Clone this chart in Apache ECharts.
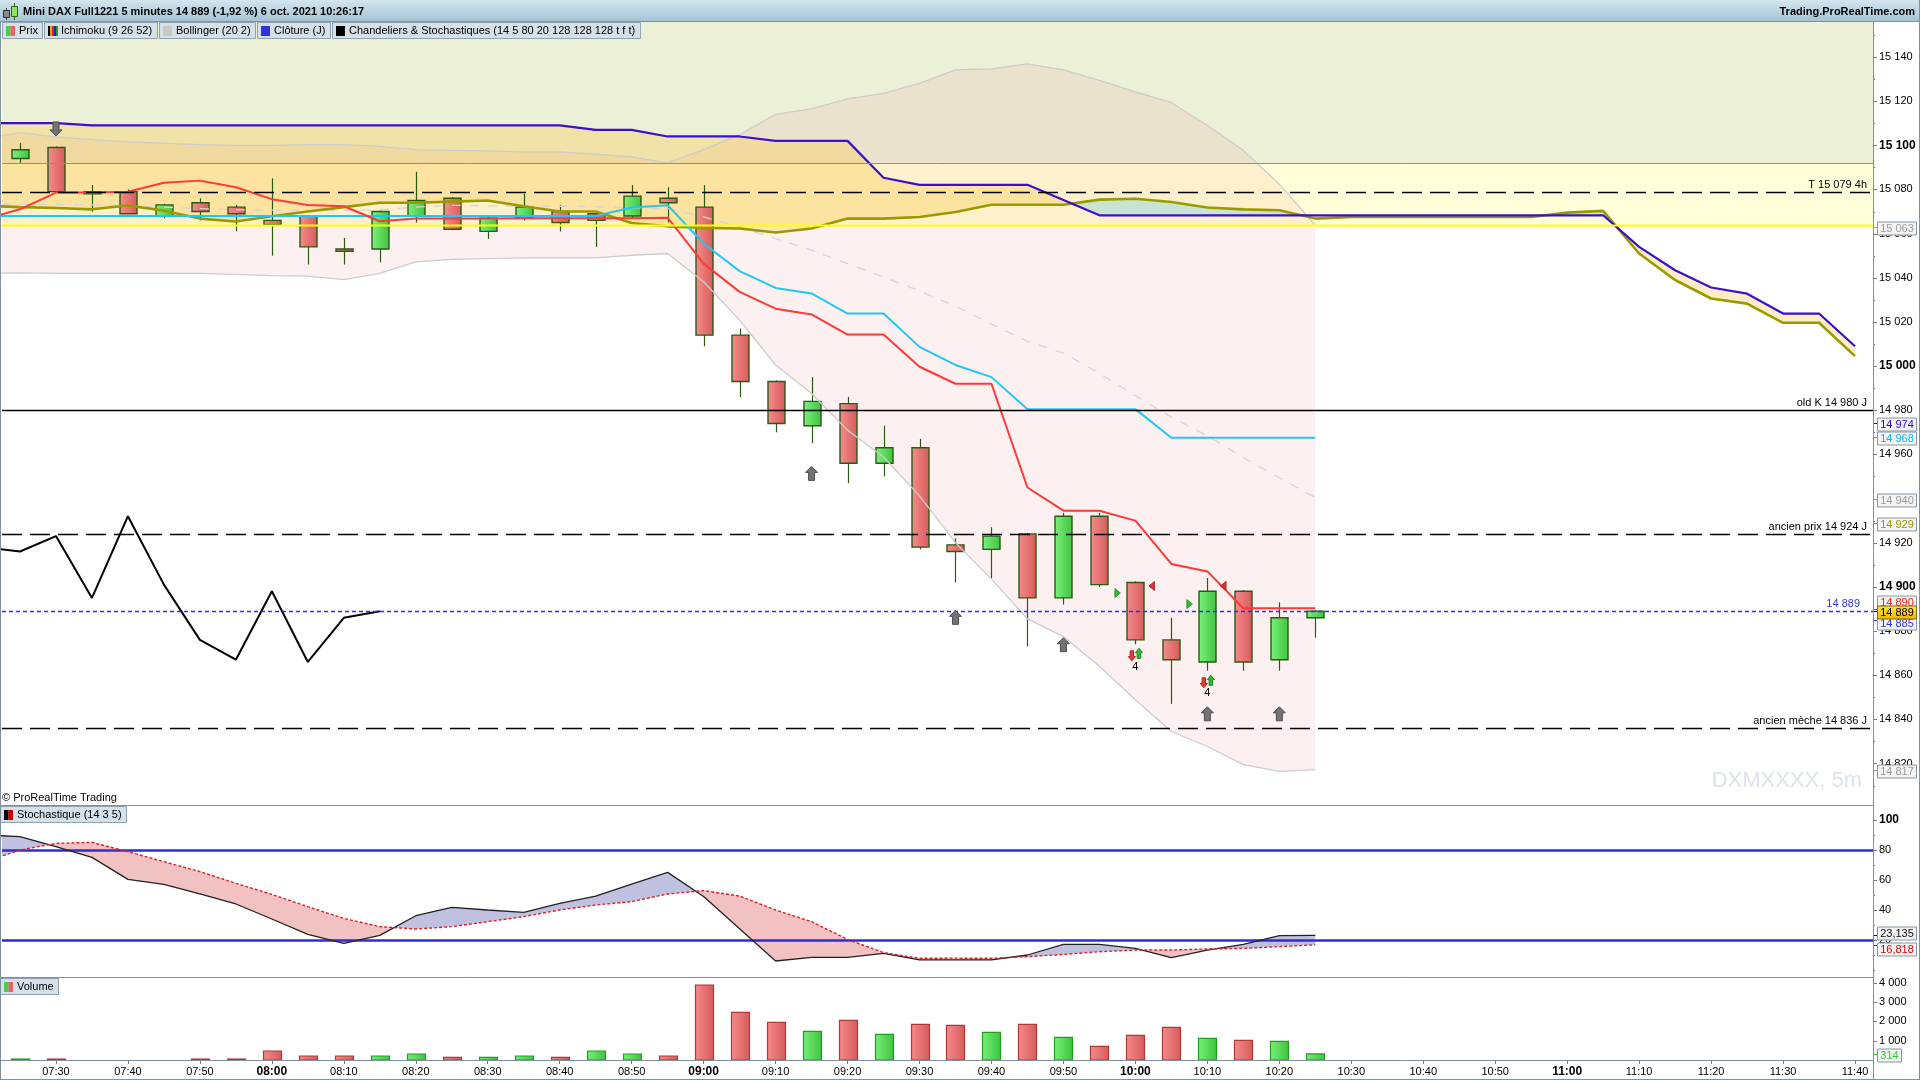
<!DOCTYPE html>
<html>
<head>
<meta charset="utf-8">
<title>Mini DAX Full1221 5 minutes</title>
<script src="https://cdn.jsdelivr.net/npm/echarts@6/dist/echarts.min.js"></script>
<style>
html,body{margin:0;padding:0;background:#fff;overflow:hidden;}
#chart{width:1920px;height:1080px;}
</style>
</head>
<body>
<div id="chart"></div>
<script>
// ================= DATA =================
// Bar index 0 = 07:25, one bar every 5 minutes.
const candleOpen  = [15094,15099,15079,15079,15068,15074,15072,15066,15068,15053,
                     15053,15068,15076,15061,15067,15070,15069,15068,15076,15072,
                     15014,14993,14973,14983,14956,14963,14919,14917,14924,14895,
                     14932,14902,14876,14866,14898,14867,14886];
const candleClose = [15098,15079,15078,15069,15073,15070,15069,15064,15054,15052,
                     15070,15075,15062,15067,15072,15065,15066,15077,15074,15014,
                     14993,14974,14984,14956,14963,14918,14916,14923,14895,14932,
                     14901,14876,14867,14898,14866,14886,14889];
const candleLow   = [15092,15078.5,15070,15069,15067,15066,15061,15050,15046,15046,
                     15047,15065,15061.5,15057.6,15066,15061,15054,15067,15065,15009,
                     14986,14970,14965,14947,14950,14917,14902,14904,14873,14892,
                     14900,14874,14847,14862,14862,14862,14877];
const candleHigh  = [15101,15099.5,15082,15080,15073.5,15076,15073,15085,15068.5,15058,
                     15070.5,15088,15076.5,15067.5,15078,15073,15069.5,15082,15081,15082,
                     15017,14993.5,14995,14986,14973,14967,14922,14927,14924.5,14933.5,
                     14933.5,14902.5,14886,14904,14898.5,14893,14889.5];
const volumes     = [50,50,0,0,0,50,50,467,207,207,
                     207,311,140,140,207,140,467,311,207,3888,
                     2473,1954,1488,2058,1332,1851,1799,1436,1851,1177,
                     710,1280,1695,1125,1021,969,314];

// Indicator arrays start at bar index -1 (partly hidden bar at the left edge)
const indStart = -1;
const tenkan = [15066.5,15071,15078.6,15078.6,15079,15083,15084,15081,15075.6,15073,15072.4,
                15065.6,15066.8,15066.8,15066.8,15067,15067,15067,15067,15067.2,15046.4,
                15033.6,15026,15023.4,15014.3,15014.3,14999.7,14992,14992,14945,14934.5,
                14934.5,14930,14910.4,14907,14890.3,14890.3,14890.3];
const kijun  = [15068,15068,15068,15068,15068,15068,15068,15068,15068,15068,15068,
                15068,15068,15068,15068,15068,15068,15068,15071.8,15072.9,15055.5,
                15043,15035.4,15032.9,15023.8,15023.8,15008.7,15000.5,14995,14980.5,14980.5,
                14980.5,14980.5,14967.5,14967.5,14967.5,14967.5,14967.5];
const chikou = [14918,14916,14923,14895,14932,14901,14876,14867,14898,14866,14886,14889];
const senkouA = [15072.6,15072,15071.6,15071,15072.7,15070.4,15066.8,15065.5,15067.9,15070,
                 15072,15074,15074,15074.5,15075,15072.4,15070,15070,15064.8,15063.3,
                 15062.6,15062.3,15060.5,15062.3,15066.8,15066.8,15067.5,15069.8,15073.1,15073.1,
                 15073.1,15075.4,15075.8,15074.3,15071.8,15071,15070.6,15066.8,15067.6,15067.5,
                 15067.5,15067.5,15067.5,15067.5,15069.5,15070.3,15051,15039,15030.6,15028.3,
                 15019.6,15019.6,15004.5];
const senkouB = [15110,15110,15110,15109,15109,15109,15109,15109,15109,15109,
                 15109,15109,15109,15109,15109,15109,15109,15107,15107,15104,
                 15104,15104,15102,15102,15102,15085.3,15082.1,15082.1,15082.1,15082.1,
                 15075.2,15068.3,15068.3,15068.3,15068.3,15068.3,15068.3,15068.3,15068.3,15068.3,
                 15068.3,15068.3,15068.3,15068.3,15068.3,15068.3,15054,15043.4,15035.6,15032.8,
                 15023.8,15023.8,15009];
const bollUpper = [15103,15105.7,15103.8,15102.6,15101.5,15101,15100.3,15100,15100,15100.3,
                   15100.3,15099.5,15098,15097.7,15097.5,15097,15097,15096,15094.7,15092,
                   15098,15104.8,15114,15116.5,15121,15123.5,15128,15134.2,15134.6,15136.9,
                   15134.2,15129.4,15124.2,15119.3,15109,15097.7,15082.4,15063.8];
const bollMid   = [15073.3,15073.3,15073.2,15073,15072.5,15072,15071.3,15070.8,15070.6,15070.5,
                   15070.5,15070.8,15072,15072.8,15072.6,15072.4,15072.4,15072.2,15071.8,15071.3,
                   15067.6,15063,15057.7,15052.5,15046.4,15040.4,15034,15027.1,15019,15011.2,
                   15005.9,14996.7,14986.6,14976.9,14968.4,14958.6,14949.4,14940.5];
const bollLower = [15042,15042.2,15042,15042,15042,15042,15042,15041.5,15041,15040.7,
                   15039.2,15042,15047.2,15048.3,15048.7,15049,15049,15049,15050.2,15051,
                   15038.2,15020.8,15000.5,14987.6,14971,14958.8,14941.2,14920,14903.5,14885.5,
                   14877.5,14864,14848.9,14834.5,14827.7,14819.5,14816.4,14817.2];
const stochK = [90,88.9,82.2,75.1,60.4,57.1,50.7,44,34,23.8,
                17.8,23.1,36.2,41.8,40,38.4,44.4,49.3,57.3,65.1,
                49,27.5,6,8.4,8.4,11.1,6.7,6.7,6.7,10,
                17.1,17.1,14.4,8.2,13.3,17.1,22.9,23.135];
const stochD = [72,80,84.4,85.1,78.9,72.2,65.6,57.8,50.4,42.2,
                34.4,28.9,27.3,28.9,32.2,35.6,40,43.3,45.6,50.7,
                52.9,49.3,40,32.2,20.4,11.6,7.8,7.9,7.8,8.9,
                10.4,12.2,13.3,13.3,14,14.4,15.6,16.818];
const stochLevels = [80, 20];

// Horizontal levels and zones (prices)
const zoneBlueLine = 15091.8, zoneYellowLine = 15064;
const levelPrices = [15079, 14980, 14924, 14836, 14889];
const levelTexts  = ['T 15 079 4h', 'old K 14 980 J', 'ancien prix 14 924 J', 'ancien m\u00e8che 14 836 J', '14 889'];

// Markers
const upArrowIdx = [22, 26, 29, 33, 35];
const upArrowPrice = [14951.4, 14886.2, 14873.8, 14842.5, 14842.5];
const downArrowIdx = [1];
const downArrowPrice = [15107.4];
const signalIdx = [31, 33];
const signalPrice = [14869.2, 14857];
const signalCount = ['4', '4'];
const signalCountPrice = [14863.7, 14852];
const triIdx = [30.5, 31.46, 32.5, 33.45];
const triPrice = [14897.2, 14900.4, 14892.2, 14900.4];
const triDir = [1, -1, 1, -1];

// Axis tags (last values)
const mainTagValues = [15063, 14974, 14968, 14940, 14929, 14890, 14885, 14889, 14817];
const stochTagValues = [23.135, 16.818];
const volTagValues = [314];

// Tick labels
const xTickIdx = [1,3,5,7,9,11,13,15,17,19,21,23,25,27,29,31,33,35,37,39,41,43,45,47,49,51];
const xTickLabels = ['07:30','07:40','07:50','08:00','08:10','08:20','08:30','08:40','08:50','09:00',
                     '09:10','09:20','09:30','09:40','09:50','10:00','10:10','10:20','10:30','10:40',
                     '10:50','11:00','11:10','11:20','11:30','11:40'];
const priceTicks = [14820,14840,14860,14880,14900,14920,14940,14960,14980,15000,15020,15040,15060,15080,15100,15120,15140];
const stochTicks = [20,40,60,80,100];
const volTicks = [1000,2000,3000,4000];

// ================= RENDERING =================
const FONT = '"Liberation Sans", Arial, Helvetica, sans-serif';
const fmt = v => String(v).replace(/\B(?=(\d{3})+(?!\d))/g, ' ');
const mctx = document.createElement('canvas').getContext('2d');
const tw = (t, f) => { mctx.font = f; return mctx.measureText(t).width; };
const F11 = '11px ' + FONT;

const minorOf = (arr, step) => { const out = []; for (let v = arr[0] - step; v <= arr[arr.length-1] + step + 1e-9; v += step) out.push(+v.toFixed(3)); return out; };

function txt(text, x, y, fill, font, align, valign) {
  return {type:'text', style:{text, x, y, fill, font, align, verticalAlign:valign, textAlign:align, textVerticalAlign:valign}};
}

const chart = echarts.init(document.getElementById('chart'), null, {renderer:'canvas', width:1920, height:1080});

function lineSeries(vals, start, color, width, dash, z, grid) {
  return {type:'line', xAxisIndex:grid||0, yAxisIndex:grid||0,
    data: vals.map((v,k)=>[k+start, v]), showSymbol:false, symbol:'none',
    lineStyle:{color, width, type: dash || 'solid'}, z, silent:true, animation:false, clip:true};
}

function bandRender(start, a, b, colA, colB) {
  return function(params, api) {
    const P = (x,v)=>api.coord([x,v]);
    const children = [];
    let regA = [], regB = [], sign = null;
    const flush = () => {
      if (regA.length > 1) children.push({type:'polygon', shape:{points: regA.concat(regB.slice().reverse())}, style:{fill: sign>0?colA:colB}});
    };
    for (let k = 0; k < a.length; k++) {
      const x = k + start;
      const d = a[k] - b[k];
      const s = d >= 0 ? 1 : -1;
      if (sign !== null && s !== sign) {
        const dp = a[k-1] - b[k-1];
        const t = dp / (dp - d);
        const xi = x - 1 + t, vi = a[k-1] + t*(a[k]-a[k-1]);
        const pi = P(xi, vi);
        regA.push(pi); regB.push(pi);
        flush();
        regA = [pi]; regB = [pi];
      }
      sign = s;
      regA.push(P(x, a[k])); regB.push(P(x, b[k]));
    }
    flush();
    return {type:'group', children};
  };
}

function renderZones(params, api) {
  const cs = params.coordSys;
  const yG = api.coord([0, zoneBlueLine])[1], yY = api.coord([0, zoneYellowLine])[1];
  return {type:'group', children:[
    {type:'rect', shape:{x:cs.x, y:cs.y, width:cs.width, height:yG-cs.y}, style:{fill:'#ebf0d7'}},
    {type:'rect', shape:{x:cs.x, y:yG, width:cs.width, height:yY-yG}, style:{fill:'#ffffd9'}}
  ]};
}

const levelStyles = [
  {color:'#000', width:1.3, dash:[20,8], textOff:6, textColor:'#000'},
  {color:'#000', width:1.3, dash:null, textOff:6, textColor:'#000'},
  {color:'#000', width:1.3, dash:[20,8], textOff:6, textColor:'#000'},
  {color:'#000', width:1.3, dash:[20,8], textOff:6, textColor:'#000'},
  {color:'#2b2bff', width:1.4, dash:[4,3], textOff:13, textColor:'#3434ee'}
];
function renderLevels(params, api) {
  const cs = params.coordSys, x0 = cs.x, x1 = cs.x + cs.width;
  const Y = v => Math.round(api.coord([0, v])[1]) + 0.5;
  const ch = [];
  let y = Y(zoneBlueLine);
  ch.push({type:'line', shape:{x1:x0, y1:y, x2:x1, y2:y}, style:{stroke:'#6f95d9', lineWidth:1}});
  y = Y(zoneYellowLine);
  ch.push({type:'line', shape:{x1:x0, y1:y, x2:x1, y2:y}, style:{stroke:'#ffff00', lineWidth:2}});
  levelPrices.forEach((v,k) => {
    const st = levelStyles[k], yy = Y(v);
    ch.push({type:'line', shape:{x1:x0, y1:yy, x2:x1, y2:yy}, style:{stroke:st.color, lineWidth:st.width, lineDash:st.dash}});
    ch.push(txt(levelTexts[k], x1 - st.textOff, yy - 2.5, st.textColor, F11, 'right', 'bottom'));
  });
  return {type:'group', children:ch};
}

function renderCandle(params, api) {
  const i = api.value(0), o = api.value(1), c = api.value(2), l = api.value(3), h = api.value(4);
  const pO = api.coord([i,o]), pC = api.coord([i,c]), pL = api.coord([i,l]), pH = api.coord([i,h]);
  const w = Math.round(api.size([1,0])[0] * 0.48);
  const cx = Math.round(pO[0]) + 0.5;
  const top = Math.min(pO[1], pC[1]), bot = Math.max(pO[1], pC[1]);
  const up = c >= o;
  const fill = new echarts.graphic.LinearGradient(0,0,1,0,[
    {offset:0, color: up ? '#7ef27e' : '#f68d8d'}, {offset:1, color: up ? '#3ec23e' : '#d65a5a'}]);
  return {type:'group', children:[
    {type:'line', shape:{x1:cx, y1:pH[1], x2:cx, y2:pL[1]}, style:{stroke:'#2b5a14', lineWidth:1.2}},
    {type:'rect', shape:{x:cx - w/2, y:top, width:w, height:Math.max(bot-top, 2)}, style:{fill, stroke:'#2b5a14', lineWidth:1.4}}
  ]};
}

function arrowShape(cx, cy, dir, w, h, fill, stroke) {
  const hw = w/2, sw = w*0.25, hh = h/2, neck = h*0.07;
  const pts = [[0,-hh],[hw,-neck],[sw,-neck],[sw,hh],[-sw,hh],[-sw,-neck],[-hw,-neck]]
    .map(p => [cx + p[0], cy + p[1]*dir]);
  return {type:'polygon', shape:{points:pts}, style:{fill, stroke, lineWidth:1}};
}
function renderMarkers(params, api) {
  const ch = [];
  const P = (i,v) => api.coord([i,v]);
  upArrowIdx.forEach((i,k) => { const p = P(i, upArrowPrice[k]); ch.push(arrowShape(p[0], p[1], 1, 12, 14, '#737373', '#4d4d4d')); });
  downArrowIdx.forEach((i,k) => { const p = P(i, downArrowPrice[k]); ch.push(arrowShape(p[0], p[1], -1, 12, 14, '#737373', '#4d4d4d')); });
  signalIdx.forEach((i,k) => {
    const p = P(i, signalPrice[k]);
    ch.push(arrowShape(p[0]-3.5, p[1]+1, -1, 7, 10, '#e23b3b', '#b52020'));
    ch.push(arrowShape(p[0]+3.5, p[1]-1.5, 1, 7, 10, '#33b833', '#1b8a1b'));
    const q = P(i, signalCountPrice[k]);
    ch.push(txt(signalCount[k], q[0], q[1], '#000', F11, 'center', 'middle'));
  });
  triIdx.forEach((i,k) => {
    const p = P(i, triPrice[k]), d = triDir[k];
    ch.push({type:'polygon', shape:{points:[[p[0]-2.5*d, p[1]-4.5],[p[0]+3*d, p[1]],[p[0]-2.5*d, p[1]+4.5]]},
      style:{fill: d>0 ? '#2cc02c' : '#e03030', stroke: d>0 ? '#158a15' : '#a01818', lineWidth:0.8}});
  });
  return {type:'group', children:ch};
}

function renderHLines(values, color, width) {
  return function(params, api) {
    const cs = params.coordSys;
    return {type:'group', children: values.map(v => {
      const y = Math.round(api.coord([0, v])[1]) + 0.5;
      return {type:'line', shape:{x1:cs.x, y1:y, x2:cs.x+cs.width, y2:y}, style:{stroke:color, lineWidth:width}};
    })};
  };
}

// axis ticks on the right-hand price scales
function renderTicks(major, minor) {
  return function(params, api) {
    const cs = params.coordSys, xa = cs.x + cs.width;
    const ch = [];
    const add = (v, len) => {
      const y = Math.round(api.coord([0, v])[1]) + 0.5;
      if (y < cs.y - 0.5 || y > cs.y + cs.height + 0.5) return;
      ch.push({type:'line', shape:{x1:xa, y1:y, x2:xa + len, y2:y}, style:{stroke:'#6a7d8c', lineWidth:1}});
    };
    minor.forEach(v => add(v, 2));
    major.forEach(v => add(v, 4));
    return {type:'group', children:ch};
  };
}

function renderVolume(params, api) {
  const i = api.value(0), v = api.value(1);
  if (!v) return;
  const p0 = api.coord([i, 0]), p1 = api.coord([i, v]);
  const up = i === 0 ? candleClose[0] >= candleOpen[0] : candleClose[i] >= candleClose[i-1];
  const w = Math.round(api.size([1,0])[0] * 0.49);
  const cx = Math.round(p0[0]) + 0.5;
  const fill = new echarts.graphic.LinearGradient(0,0,1,0,[
    {offset:0, color: up ? '#78ef78' : '#f58b8b'}, {offset:1, color: up ? '#3cc33c' : '#d75a5a'}]);
  return {type:'rect', shape:{x:cx - w/2, y:p1[1], width:w, height:Math.max(p0[1]-p1[1], 1)},
    style:{fill, stroke: up ? '#1f9e1f' : '#b13636', lineWidth:1.2}};
}

function tagRender(tags) {
  return function(params, api) {
    const cs = params.coordSys, xa = cs.x + cs.width;
    const ch = [];
    tags.forEach(t => {
      const y0 = Math.round(api.coord([0, t.v])[1]) + 0.5;
      const y = Math.round(y0 + (t.nudge || 0)) + 0.5;
      const w = Math.ceil(tw(t.text, F11) + 5);
      ch.push({type:'line', shape:{x1:xa, y1:y0, x2:xa+4, y2:y0}, style:{stroke:t.color, lineWidth:1}});
      ch.push({type:'rect', shape:{x:xa+4.5, y:y-6.5, width:w, height:13},
        style:{fill: t.bg || '#f3f3f3', stroke: t.border || '#8797a3', lineWidth:1}});
      ch.push(txt(t.text, xa + 4.5 + w/2, y + 0.5, t.color, F11, 'center', 'middle'));
    });
    return {type:'group', children:ch};
  };
}

const goldFill = new echarts.graphic.LinearGradient(0,0,0,1,[{offset:0,color:'#ffe24a'},{offset:1,color:'#f2b400'}]);
const mainTagStyle = {
  15063:{color:'#9c9c9c'}, 14974:{color:'#3300cc'}, 14968:{color:'#12b6ec'}, 14940:{color:'#9c9c9c'},
  14929:{color:'#999900'}, 14890:{color:'#ff2020', nudge:-8}, 14885:{color:'#3333ee', nudge:2},
  14889:{color:'#000', bg:goldFill, border:'#806a10'}, 14817:{color:'#9c9c9c'}
};
const mainTags = mainTagValues.map(v => Object.assign({v, text: fmt(v)}, mainTagStyle[v]));
const stochTagStyle = [{color:'#111', nudge:-3}, {color:'#e00000', nudge:3}];
const stochTags = stochTagValues.map((v,k) => Object.assign({v, text: v.toFixed(3).replace('.', ',')}, stochTagStyle[k]));
const volTags = volTagValues.map(v => ({v, text: fmt(v), color:'#33cc33'}));

// ---- axes ----
const grids = [
  {left:2, top:21, width:1871, height:784, outerBoundsMode:'none', containLabel:false},
  {left:2, top:806, width:1871, height:170, outerBoundsMode:'none', containLabel:false},
  {left:2, top:978, width:1871, height:82, outerBoundsMode:'none', containLabel:false}
];
const xAxes = [0,1,2].map(g => ({
  type:'value', gridIndex:g, min:-0.5, max:51.5, show: g === 2,
  axisLine:{show:false}, splitLine:{show:false},
  axisTick:{show: g === 2, length:4, lineStyle:{color:'#6a7d8c'}, customValues: xTickIdx},
  axisLabel:{show: g === 2, customValues: xTickIdx, margin:6, color:'#000', fontSize:11, fontFamily:FONT,
    formatter: v => { const s = xTickLabels[xTickIdx.indexOf(Math.round(v))] || ''; return s.endsWith(':00') ? '{b|' + s + '}' : s; },
    rich:{b:{fontWeight:'bold', fontSize:12, fontFamily:FONT, color:'#000'}}}
}));
function yAx(g, min, max, labels, boldTest, labelFmt) {
  return {type:'value', gridIndex:g, position:'right', min, max,
    axisLine:{show:false}, splitLine:{show:false}, axisTick:{show:false}, minorTick:{show:false},
    axisLabel:{customValues: labels, margin:6, color:'#000', fontSize:11, fontFamily:FONT,
      formatter: v => boldTest(v) ? '{b|' + labelFmt(v) + '}' : labelFmt(v),
      rich:{b:{fontWeight:'bold', fontSize:12, fontFamily:FONT, color:'#000'}}}};
}
const yAxes = [
  yAx(0, 14801.2, 15156.3, priceTicks, v => Math.round(v) % 100 === 0, v => fmt(Math.round(v))),
  yAx(1, -4, 109.33, stochTicks, v => v === 100, v => String(Math.round(v))),
  yAx(2, 0, 4250, volTicks, v => false, v => fmt(Math.round(v)))
];

// ---- series ----
const series = [
  {type:'custom', xAxisIndex:0, yAxisIndex:0, data:[[0]], renderItem:renderZones, z:0, silent:true, clip:true},
  {type:'custom', xAxisIndex:0, yAxisIndex:0, data:[[0]], renderItem:bandRender(indStart, bollUpper, bollLower, 'rgba(228,110,110,0.10)', 'rgba(228,110,110,0.10)'), z:1, silent:true, clip:true},
  {type:'custom', xAxisIndex:0, yAxisIndex:0, data:[[0]], renderItem:bandRender(indStart, senkouB, senkouA, 'rgba(255,198,55,0.30)', 'rgba(87,203,230,0.30)'), z:1, silent:true, clip:true},
  {type:'custom', xAxisIndex:0, yAxisIndex:0, data: candleOpen.map((o,i)=>[i, o, candleClose[i], candleLow[i], candleHigh[i]]),
    encode:{x:0, y:[1,2,3,4]}, renderItem:renderCandle, z:3, silent:true, clip:true},
  lineSeries(bollUpper, indStart, '#cccccc', 1.3, null, 4),
  lineSeries(bollLower, indStart, '#cccccc', 1.3, null, 4),
  lineSeries(bollMid, indStart, '#dcd2d2', 1.3, [9,9], 4),
  lineSeries(senkouA, indStart, '#9a9a00', 2.6, null, 4),
  lineSeries(senkouB, indStart, '#3a0fcf', 2.2, null, 4),
  lineSeries(kijun, indStart, '#1fc7f4', 2, null, 4),
  lineSeries(tenkan, indStart, '#ff3838', 2, null, 4),
  lineSeries(chikou, indStart, '#000000', 2, null, 4),
  {type:'custom', xAxisIndex:0, yAxisIndex:0, data:[[0]], renderItem:renderLevels, z:6, silent:true, clip:true},
  {type:'custom', xAxisIndex:0, yAxisIndex:0, data:[[0]], renderItem:renderMarkers, z:7, silent:true, clip:true},
  {type:'custom', xAxisIndex:0, yAxisIndex:0, data:[[0]], renderItem:renderTicks(priceTicks, minorOf(priceTicks, 10)), z:9, silent:true, clip:false},
  {type:'custom', xAxisIndex:0, yAxisIndex:0, data:[[0]], renderItem:tagRender(mainTags), z:10, silent:true, clip:false},
  // stochastic
  {type:'custom', xAxisIndex:1, yAxisIndex:1, data:[[0]], renderItem:bandRender(indStart, stochK, stochD, '#c0c0e1', '#f2c1c1'), z:1, silent:true, clip:true},
  {type:'custom', xAxisIndex:1, yAxisIndex:1, data:[[0]], renderItem:renderHLines(stochLevels, '#2d2dd8', 2.5), z:2, silent:true, clip:true},
  lineSeries(stochK, indStart, '#222222', 1.3, null, 3, 1),
  lineSeries(stochD, indStart, '#e02020', 1.4, [3,2], 3, 1),
  {type:'custom', xAxisIndex:1, yAxisIndex:1, data:[[0]], renderItem:renderTicks(stochTicks, [0,10,30,50,70,90]), z:9, silent:true, clip:false},
  {type:'custom', xAxisIndex:1, yAxisIndex:1, data:[[0]], renderItem:tagRender(stochTags), z:10, silent:true, clip:false},
  // volume
  {type:'custom', xAxisIndex:2, yAxisIndex:2, data: volumes.map((v,i)=>[i, v]), encode:{x:0, y:1}, renderItem:renderVolume, z:2, silent:true, clip:true},
  {type:'custom', xAxisIndex:2, yAxisIndex:2, data:[[0]], renderItem:renderTicks(volTicks, []), z:9, silent:true, clip:false},
  {type:'custom', xAxisIndex:2, yAxisIndex:2, data:[[0]], renderItem:tagRender(volTags), z:10, silent:true, clip:false}
];

// ---- chrome (title bar, legends, borders) ----
const G = [];
const Z = 100;
G.push({type:'rect', z:Z, shape:{x:0, y:0, width:1920, height:21},
  style:{fill:new echarts.graphic.LinearGradient(0,0,0,1,[{offset:0,color:'#d4e5ef'},{offset:1,color:'#a6c4d4'}])}});
G.push({type:'line', z:Z, shape:{x1:0, y1:21.5, x2:1920, y2:21.5}, style:{stroke:'#7d93a3', lineWidth:1}});
// title icon
G.push({type:'line', z:Z, shape:{x1:6.5, y1:8, x2:6.5, y2:20}, style:{stroke:'#444', lineWidth:1}});
G.push({type:'rect', z:Z, shape:{x:3.5, y:10.5, width:6, height:7}, style:{fill:'#8a8a8a', stroke:'#333', lineWidth:1}});
G.push({type:'line', z:Z, shape:{x1:14.5, y1:3, x2:14.5, y2:20}, style:{stroke:'#2a6a10', lineWidth:1}});
G.push({type:'rect', z:Z, shape:{x:11.5, y:6.5, width:6, height:10}, style:{fill:'#8fe25a', stroke:'#2a6a10', lineWidth:1}});
G.push(Object.assign(txt('Mini DAX Full1221 5 minutes 14 889 (-1,92 %) 6 oct. 2021 10:26:17', 23, 11.5, '#000', 'bold 11px ' + FONT, 'left', 'middle'), {z:Z}));
G.push(Object.assign(txt('Trading.ProRealTime.com', 1915, 11.5, '#000', 'bold 11px ' + FONT, 'right', 'middle'), {z:Z}));

function legendBox(x, y, h, text, icon) {
  const w = Math.ceil(3 + 10 + 4 + tw(text, F11) + 4);
  const els = [];
  els.push({type:'rect', z:Z, shape:{x:x+0.5, y:y+0.5, width:w, height:h}, style:{fill:'#d5e0e8', stroke:'#8ea2b1', lineWidth:1}});
  const ix = x + 4, iy = y + Math.round(h/2) - 4, iw = 9, ih = 10;
  if (icon.type === 'split') {
    els.push({type:'rect', z:Z, shape:{x:ix, y:iy, width:iw/2, height:ih}, style:{fill:icon.c[0]}});
    els.push({type:'rect', z:Z, shape:{x:ix+iw/2, y:iy, width:iw/2, height:ih}, style:{fill:icon.c[1]}});
  } else if (icon.type === 'stripes') {
    icon.c.forEach((c,k) => els.push({type:'rect', z:Z, shape:{x:ix + k*2, y:iy, width:2, height:ih}, style:{fill:c}}));
  } else {
    els.push({type:'rect', z:Z, shape:{x:ix, y:iy, width:iw, height:ih}, style:{fill:icon.c}});
  }
  els.push(Object.assign(txt(text, x + 17, y + h/2 + 1, '#000', F11, 'left', 'middle'), {z:Z}));
  return {w, els};
}
let lx = 2;
[
  ['Prix', {type:'split', c:['#4ccc4c','#e86464']}],
  ['Ichimoku (9 26 52)', {type:'stripes', c:['#000','#e8a000','#e02020','#2020d0','#20a020']}],
  ['Bollinger (20 2)', {type:'solid', c:'#c8c8c8'}],
  ['Cl\u00f4ture (J)', {type:'solid', c:'#3232e0'}],
  ['Chandeliers & Stochastiques (14 5 80 20 128 128 128 t f t)', {type:'solid', c:'#000'}]
].forEach(([t, ic]) => { const b = legendBox(lx, 22, 16, t, ic); G.push(...b.els); lx += b.w + 2; });
G.push(...legendBox(0, 806, 16, 'Stochastique (14 3 5)', {type:'split', c:['#000','#d00000']}).els);
G.push(...legendBox(0, 978, 16, 'Volume', {type:'split', c:['#4ccc4c','#e86464']}).els);

G.push(Object.assign(txt('\u00a9 ProRealTime Trading', 2, 798, '#000', F11, 'left', 'middle'), {z:Z}));
G.push(Object.assign(txt('DXMXXXX, 5m', 1862, 781, '#dde3ea', '22px ' + FONT, 'right', 'middle'), {z:5}));

const BC = '#7f919f';
[[0, 805.5, 1873, 805.5], [0, 977.5, 1873, 977.5], [0, 1060.5, 1873, 1060.5], [0, 1079.5, 1920, 1079.5],
 [1873.5, 21, 1873.5, 1080], [0.5, 21, 0.5, 1080], [1919.5, 0, 1919.5, 1080]].forEach(s =>
  G.push({type:'line', z:Z, shape:{x1:s[0], y1:s[1], x2:s[2], y2:s[3]}, style:{stroke:BC, lineWidth:1}}));

chart.setOption({
  animation:false,
  backgroundColor:'#ffffff',
  textStyle:{fontFamily:FONT},
  grid: grids,
  xAxis: xAxes,
  yAxis: yAxes,
  series,
  graphic: G
});
</script>
</body>
</html>
